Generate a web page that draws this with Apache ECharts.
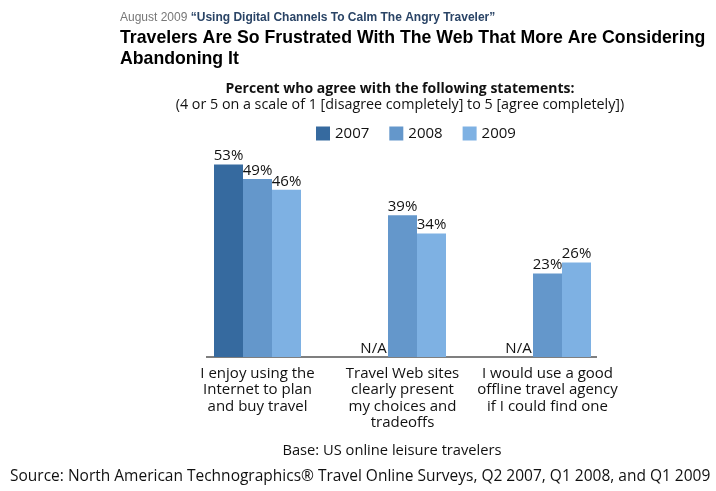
<!DOCTYPE html>
<html><head><meta charset="utf-8">
<script src="https://cdn.jsdelivr.net/npm/echarts@6/dist/echarts.min.js"></script>
<style>html,body{margin:0;padding:0;background:#fff}#c{width:716px;height:491px}</style>
</head><body><div id="c"></div>
<script>
var categories = ["I enjoy using the\nInternet to plan\nand buy travel", "Travel Web sites\nclearly present\nmy choices and\ntradeoffs", "I would use a good\noffline travel agency\nif I could find one"];
var seriesNames = ["2007", "2008", "2009"];
var v2007 = [53, null, null];
var v2008 = [49, 39, 23];
var v2009 = [46, 34, 26];
var colors = ["#366a9f", "#6497cb", "#7eb1e3"];
var F = "'Open Sans', Lato, sans-serif";

function build(arr) {
  return arr.map(function (v) {
    if (v === null) return { value: 0, label: { formatter: "N/A", distance: 1 } };
    return v;
  });
}
var allVals = [v2007, v2008, v2009];
var chart = echarts.init(document.getElementById('c'));
chart.setOption({
  animation: false,
  backgroundColor: '#fff',
  title: [
    { left: 120, top: 12, padding: 0, text: '{a|August 2009 }{b|“Using Digital Channels To Calm The Angry Traveler”}',
      textStyle: { fontWeight: 'normal', rich: { a: { fontFamily: "'Liberation Sans', Arial", fontSize: 12, color: '#777', fontWeight: 'normal' },
                            b: { fontFamily: "'Liberation Sans', Arial", fontSize: 12, color: '#2a4466', fontWeight: 'bold' } } } },
    { left: 120, top: 27, padding: 0, text: 'Travelers Are So Frustrated With The Web That More Are Considering\nAbandoning It',
      textStyle: { fontFamily: "'Liberation Sans', Arial", fontSize: 17.7, fontWeight: 'bold', color: '#000', lineHeight: 21.5 } },
    { left: 400, textAlign: 'center', top: 82, padding: 0, text: 'Percent who agree with the following statements:',
      textStyle: { fontFamily: F, fontSize: 14, fontWeight: 'bold', color: '#111' } },
    { left: 400, textAlign: 'center', top: 98, padding: 0, text: '(4 or 5 on a scale of 1 [disagree completely] to 5 [agree completely])',
      textStyle: { fontFamily: F, fontSize: 14.3, fontWeight: 'normal', color: '#111' } },
    { left: 392, textAlign: 'center', top: 443, padding: 0, text: 'Base: US online leisure travelers',
      textStyle: { fontFamily: F, fontSize: 14.7, fontWeight: 'normal', color: '#111' } },
    { left: 10, top: 469, padding: 0, text: 'Source: North American Technographics® Travel Online Surveys, Q2 2007, Q1 2008, and Q1 2009',
      textStyle: { fontFamily: F, fontSize: 15.5, fontWeight: 'normal', color: '#111' } }
  ],
  legend: {
    top: 126, left: 316, padding: 0, itemWidth: 14, itemHeight: 14, itemGap: 20, icon: 'rect',
    textStyle: { fontFamily: F, fontSize: 15, color: '#111' },
    data: seriesNames
  },
  grid: { left: 185, right: 96, top: 139, bottom: 134 },
  xAxis: {
    type: 'category', data: categories,
    axisLine: { show: false }, axisTick: { show: false },
    axisLabel: { fontFamily: F, fontSize: 15, color: '#111', lineHeight: 16.5, margin: 8, interval: 0 }
  },
  yAxis: { type: 'value', min: 0, max: 60, show: false, splitLine: { show: false } },
  graphic: [
    { type: 'line', shape: { x1: 206, y1: 357, x2: 597, y2: 357 }, style: { stroke: '#555', lineWidth: 1.5 } }
  ],
  series: seriesNames.map(function (n, i) {
    return {
      name: n, type: 'bar', barWidth: 29, barGap: '0%', barCategoryGap: '40%',
      itemStyle: { color: colors[i] },
      label: { show: true, position: 'top', distance: 1, fontFamily: F, fontSize: 15, color: '#111',
               formatter: function (p) { return p.value + '%'; } },
      data: build(allVals[i])
    };
  })
});
</script></body></html>
